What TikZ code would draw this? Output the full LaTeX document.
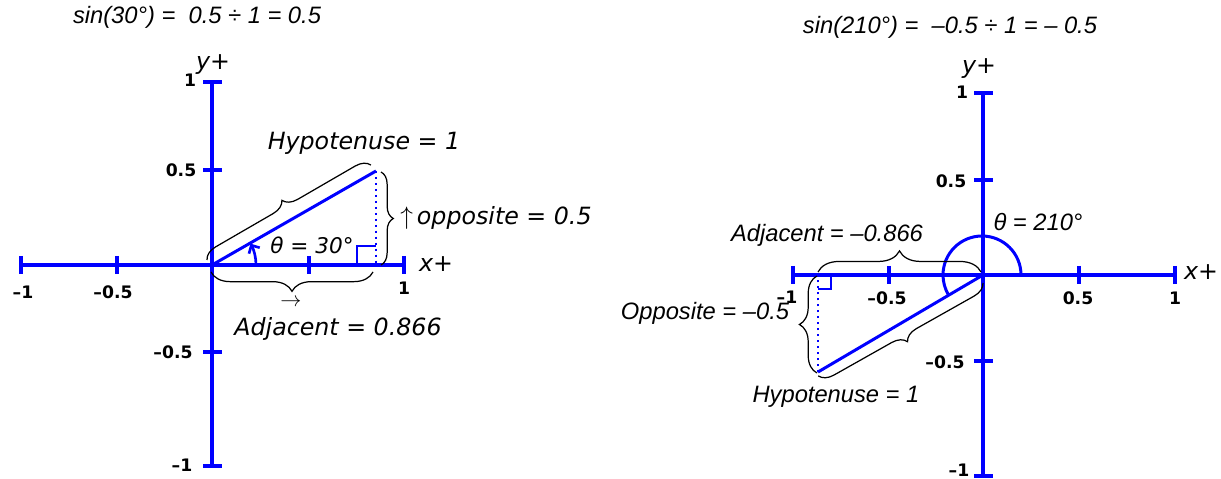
\documentclass[tikz,border=0pt]{standalone}
\usepackage{fontspec}
\usetikzlibrary{decorations.pathreplacing,arrows.meta,calc}
\newfontfamily\verd{DejaVu Sans}
\newfontfamily\arl{Liberation Sans}
\definecolor{axblue}{RGB}{0,0,255}
\begin{document}
\begin{tikzpicture}[x=0.02cm,y=-0.02cm,
 axis/.style={axblue,line width=2pt},
 tickm/.style={axblue,line width=1.8pt},
 hyp/.style={axblue,line width=1.7pt},
 dotline/.style={axblue,line width=1.2pt,dash pattern=on 1.2pt off 2.2pt},
 rmark/.style={axblue,line width=0.9pt},
 brc/.style={black,line width=0.7pt,decorate,decoration={brace,amplitude=#1}},
 ticklab/.style={font=\verd\bfseries\fontsize{9.8}{11}\selectfont,inner sep=0pt},
 vlab/.style={font=\verd\itshape\fontsize{13.5}{15}\selectfont,inner sep=0pt},
 alab/.style={font=\arl\itshape\fontsize{13.5}{15}\selectfont,inner sep=0pt},
]
\useasboundingbox (0,0) rectangle (1221,479);

% ---------------- left diagram ----------------
\coordinate (O1) at (212,265);
\coordinate (P1) at (376,171);
\coordinate (F1) at (376,265);
\draw[axis] (21,265) -- (404,265);
\draw[axis] (212,82) -- (212,466);
\foreach \x in {21,117,309,404} \draw[tickm] (\x,256) -- (\x,274);
\foreach \y in {82,170,352,466} \draw[tickm] (203,\y) -- (222,\y);
\draw[hyp] (O1) -- (P1);
\draw[dotline] (P1) -- (F1);
\draw[rmark] (357,265) -- (357,246) -- (376,246);
\draw[axblue,line width=1.5pt,-{Straight Barb[length=3.5pt,width=7pt]}]
  ($(O1)+(44,0)$) arc[start angle=0,end angle=29,radius=0.88cm];
\draw[brc=8pt] ($(O1)+(-5,-5)$) -- ($(P1)+(-5,-6)$);
\draw[brc=7pt] (381,172) -- (381,265);
\draw[brc=11pt] (373,272) -- (211,272);

\node[alab] (t1) at (197,17) {sin(30°) =\ \ 0.5 ÷ 1 = 0.5};
\node[vlab] (hy1) at (364,143) {Hypotenuse = 1};
\node[vlab,anchor=west] (op1) at (400,218) {\normalfont$\uparrow$\,\verd\itshape opposite = 0.5};
\node[vlab,font=\verd\itshape\fontsize{12.3}{14}\selectfont] (th1) at (312,245) {θ = 30°};
\node[inner sep=0pt,font=\fontsize{12.5}{14}\selectfont] (ar1) at (291,303) {$\rightarrow$};
\node[vlab] (ad1) at (338,329) {Adjacent = 0.866};
\node[vlab] (xp1) at (436,264) {x+};
\node[vlab] (yp1) at (213,65) {y+};
\node[ticklab] (ly1a) at (190,80) {1};
\node[ticklab] (ly1b) at (181,170) {0.5};
\node[ticklab] (ly1c) at (173,352) {–0.5};
\node[ticklab] (ly1d) at (182,465) {–1};
\node[ticklab] (lx1a) at (23,292) {–1};
\node[ticklab] (lx1b) at (113,292) {–0.5};
\node[ticklab] (lx1c) at (404,288) {1};

% ---------------- right diagram ----------------
\coordinate (O2) at (983,275);
\coordinate (P2) at (818,372);
\coordinate (F2) at (818,275);
\draw[axis] (793,275) -- (1175,275);
\draw[axis] (983,93) -- (983,476);
\foreach \x in {793,889,1079,1175} \draw[tickm] (\x,266) -- (\x,284);
\foreach \y in {93,180,361,476} \draw[tickm] (974,\y) -- (993,\y);
\draw[hyp] (O2) -- (P2);
\draw[dotline] (P2) -- (F2);
\draw[rmark] (818,289) -- (831,289) -- (831,275);
\draw[axblue,line width=1.7pt] ($(O2)+(38,0)$) arc[start angle=0,end angle=210,radius=0.78cm];
\draw[brc=12pt] (818,272) -- (981,272);
\draw[brc=10pt] (817,373) -- (817,276);
\draw[brc=8pt] ($(O2)+(0,8)$) -- ($(P2)+(0,4)$);

\node[alab] (t2) at (950,27) {sin(210°) =\ \ –0.5 ÷ 1 = – 0.5};
\node[alab] (th2) at (1038,222) {θ = 210°};
\node[alab] (ad2) at (827,235) {Adjacent = –0.866};
\node[alab] (op2) at (705,313) {Opposite = –0.5};
\node[alab] (hy2) at (836,397) {Hypotenuse = 1};
\node[vlab] (xp2) at (1201,272) {x+};
\node[vlab] (yp2) at (979,69) {y+};
\node[ticklab] (lx2a) at (787,297) {–1};
\node[ticklab] (lx2b) at (887,298) {–0.5};
\node[ticklab] (lx2c) at (1078,298) {0.5};
\node[ticklab] (lx2d) at (1175,298) {1};
\node[ticklab] (ly2a) at (962,92) {1};
\node[ticklab] (ly2b) at (951,181) {0.5};
\node[ticklab] (ly2c) at (945,362) {–0.5};
\node[ticklab] (ly2d) at (959,470) {–1};
\end{tikzpicture}
\end{document}
